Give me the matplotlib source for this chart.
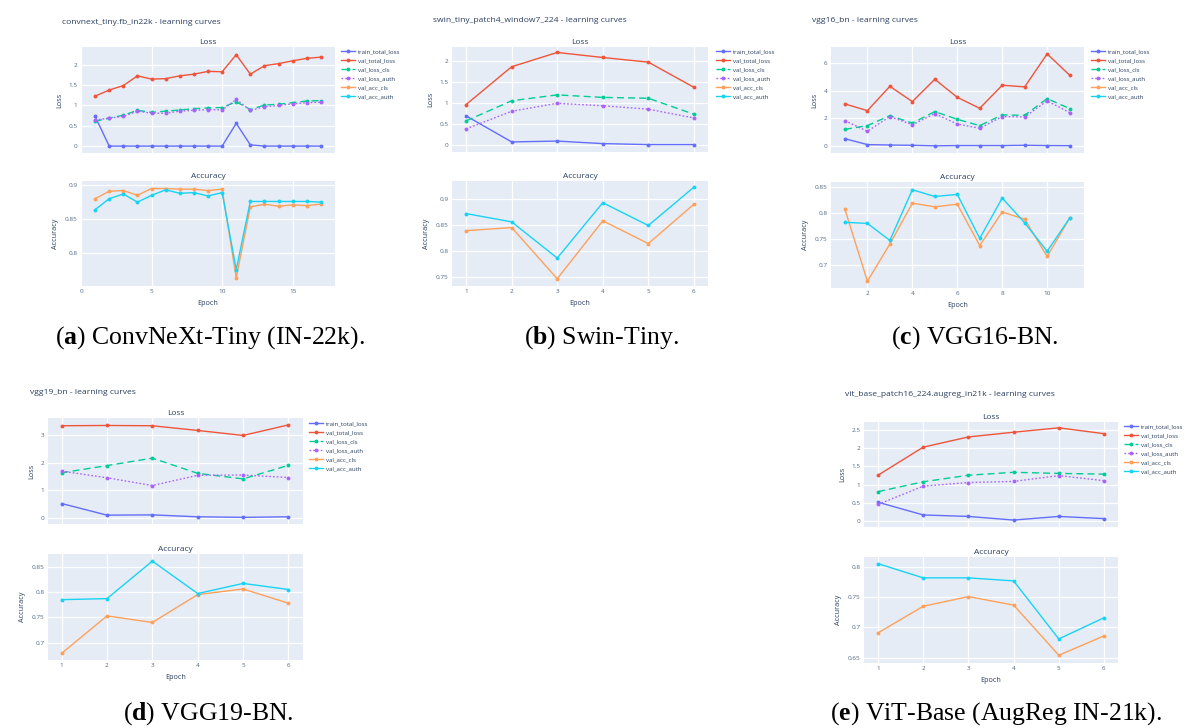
import matplotlib
matplotlib.use("Agg")
import matplotlib.pyplot as plt
from matplotlib.ticker import FuncFormatter

W, H = 1186, 728

# ---- values ----
series_names = ["train_total_loss", "val_total_loss", "val_loss_cls",
                "val_loss_auth", "val_acc_cls", "val_acc_auth"]

a_title = "convnext_tiny.fb_in22k - learning curves"
a_epochs = list(range(1, 18))
a_train_total = [0.73, 0.0, 0.0, 0.0, 0.0, 0.0, 0.0, 0.0, 0.0, 0.0, 0.56, 0.03, 0.0, 0.0, 0.0, 0.0, 0.0]
a_val_total = [1.23, 1.38, 1.49, 1.73, 1.65, 1.66, 1.73, 1.77, 1.84, 1.83, 2.25, 1.77, 1.98, 2.03, 2.10, 2.16, 2.19]
a_val_cls = [0.61, 0.69, 0.76, 0.88, 0.83, 0.86, 0.89, 0.92, 0.94, 0.95, 1.09, 0.90, 1.01, 1.03, 1.07, 1.11, 1.12]
a_val_auth = [0.64, 0.69, 0.73, 0.86, 0.81, 0.81, 0.86, 0.88, 0.90, 0.89, 1.15, 0.88, 0.97, 1.00, 1.04, 1.07, 1.08]
a_acc_cls = [0.880, 0.891, 0.892, 0.885, 0.895, 0.895, 0.894, 0.894, 0.892, 0.894, 0.764, 0.868, 0.872, 0.869, 0.871, 0.870, 0.872]
a_acc_auth = [0.864, 0.880, 0.887, 0.875, 0.885, 0.893, 0.888, 0.889, 0.884, 0.889, 0.776, 0.876, 0.876, 0.876, 0.876, 0.876, 0.875]

b_title = "swin_tiny_patch4_window7_224 - learning curves"
b_epochs = list(range(1, 7))
b_train_total = [0.70, 0.08, 0.10, 0.04, 0.016, 0.016]
b_val_total = [0.97, 1.87, 2.21, 2.09, 1.98, 1.38]
b_val_cls = [0.58, 1.06, 1.20, 1.14, 1.12, 0.74]
b_val_auth = [0.39, 0.81, 1.00, 0.94, 0.86, 0.65]
b_acc_cls = [0.839, 0.845, 0.746, 0.858, 0.814, 0.890]
b_acc_auth = [0.872, 0.856, 0.786, 0.893, 0.849, 0.923]

c_title = "vgg16_bn - learning curves"
c_epochs = list(range(1, 12))
c_train_total = [0.53, 0.10, 0.07, 0.05, 0.01, 0.03, 0.03, 0.03, 0.05, 0.03, 0.02]
c_val_total = [3.06, 2.57, 4.34, 3.23, 4.85, 3.54, 2.74, 4.42, 4.30, 6.70, 5.15]
c_val_cls = [1.21, 1.48, 2.21, 1.67, 2.50, 1.94, 1.48, 2.26, 2.23, 3.45, 2.72]
c_val_auth = [1.84, 1.07, 2.14, 1.55, 2.35, 1.60, 1.29, 2.14, 2.11, 3.28, 2.43]
c_acc_cls = [0.807, 0.668, 0.740, 0.819, 0.812, 0.817, 0.737, 0.802, 0.788, 0.716, 0.790]
c_acc_auth = [0.782, 0.780, 0.747, 0.845, 0.832, 0.836, 0.751, 0.829, 0.781, 0.726, 0.790]

d_title = "vgg19_bn - learning curves"
d_epochs = list(range(1, 7))
d_train_total = [0.52, 0.10, 0.11, 0.04, 0.02, 0.04]
d_val_total = [3.33, 3.34, 3.33, 3.16, 2.98, 3.36]
d_val_cls = [1.63, 1.89, 2.16, 1.61, 1.41, 1.90]
d_val_auth = [1.69, 1.45, 1.17, 1.54, 1.55, 1.46]
d_acc_cls = [0.679, 0.753, 0.740, 0.795, 0.806, 0.778]
d_acc_auth = [0.785, 0.787, 0.861, 0.797, 0.817, 0.805]

e_title = "vit_base_patch16_224.augreg_in21k - learning curves"
e_epochs = list(range(1, 7))
e_train_total = [0.52, 0.17, 0.13, 0.03, 0.13, 0.07]
e_val_total = [1.26, 2.03, 2.31, 2.44, 2.56, 2.40]
e_val_cls = [0.81, 1.08, 1.26, 1.34, 1.31, 1.29]
e_val_auth = [0.46, 0.96, 1.06, 1.09, 1.25, 1.11]
e_acc_cls = [0.691, 0.735, 0.751, 0.737, 0.654, 0.686]
e_acc_auth = [0.8055, 0.782, 0.782, 0.777, 0.681, 0.716]

captions = [("a", "ConvNeXt-Tiny (IN-22k)."), ("b", "Swin-Tiny."), ("c", "VGG16-BN."),
            ("d", "VGG19-BN."), ("e", "ViT-Base (AugReg IN-21k).")]

# plotly default colours / styles
colors = ["#636EFA", "#EF553B", "#00CC96", "#AB63FA", "#FFA15A", "#19D3F3"]
styles = ["-", "-", (0, (5, 3)), (0, (1.2, 1.5)), "-", "-"]
txt = "#2a3f5f"
tickc = "#506784"

plt.rcParams['font.family'] = ['Open Sans', 'DejaVu Sans']
plt.rcParams['mathtext.fontset'] = 'custom'
plt.rcParams['mathtext.rm'] = 'Liberation Serif'
plt.rcParams['mathtext.bf'] = 'Liberation Serif:bold'

fig = plt.figure(figsize=(W / 100, H / 100), dpi=100)


def box(x0, x1, y0, y1):
    return [x0 / W, 1 - y1 / H, (x1 - x0) / W, (y1 - y0) / H]


def fmt(v, pos):
    return "%g" % round(v, 3)


def style_ax(ax, xlim, ylim, yticks, xticks, show_x):
    ax.set_facecolor("#E5ECF6")
    for s in ax.spines.values():
        s.set_visible(False)
    ax.set_xlim(*xlim)
    ax.set_ylim(*ylim)
    ax.set_yticks(yticks)
    ax.set_xticks(xticks)
    ax.grid(True, color="white", linewidth=0.9)
    ax.set_axisbelow(True)
    ax.tick_params(length=0, labelsize=4.6, labelcolor=tickc, pad=2.5)
    ax.yaxis.set_major_formatter(FuncFormatter(fmt))
    ax.xaxis.set_major_formatter(FuncFormatter(fmt))
    if not show_x:
        ax.set_xticklabels([])


def panel(title, tpos, epochs, loss, acc, loss_box, acc_box, xlim,
          loss_ylim, loss_yt, acc_ylim, acc_yt, xt, leg_pos):
    fig.text(tpos[0] / W, 1 - tpos[1] / H, title, fontsize=6.1, color=txt,
             va="center", ha="left")
    axl = fig.add_axes(box(*loss_box))
    axa = fig.add_axes(box(*acc_box))
    handles = []
    for i, ys in enumerate(loss):
        h, = axl.plot(epochs, ys, color=colors[i], linestyle=styles[i], lw=1.0,
                      marker="o", ms=1.8)
        handles.append(h)
    for j, ys in enumerate(acc):
        i = 4 + j
        h, = axa.plot(epochs, ys, color=colors[i], linestyle=styles[i], lw=1.0,
                      marker="o", ms=1.8)
        handles.append(h)
    style_ax(axl, xlim, loss_ylim, loss_yt, xt, False)
    style_ax(axa, xlim, acc_ylim, acc_yt, xt, True)
    axl.set_title("Loss", fontsize=6.0, color=txt, pad=2.5)
    axa.set_title("Accuracy", fontsize=6.0, color=txt, pad=2.5)
    axl.set_ylabel("Loss", fontsize=5.2, color=txt, labelpad=4)
    axa.set_ylabel("Accuracy", fontsize=5.2, color=txt, labelpad=4)
    axa.set_xlabel("Epoch", fontsize=5.2, color=txt, labelpad=4)
    fig.legend(handles, series_names, loc="upper left",
               bbox_to_anchor=(leg_pos[0] / W, 1 - leg_pos[1] / H),
               frameon=False, fontsize=4.4, labelcolor=txt, handlelength=2.3,
               handletextpad=0.5, labelspacing=0.62, borderaxespad=0,
               borderpad=0)


panel(a_title, (62, 22), a_epochs,
      [a_train_total, a_val_total, a_val_cls, a_val_auth], [a_acc_cls, a_acc_auth],
      (81, 335, 47, 153), (81, 335, 181, 286), (0, 18),
      (-0.17, 2.44), [0, 0.5, 1, 1.5, 2], (0.752, 0.906), [0.8, 0.85, 0.9],
      [0, 5, 10, 15], (341, 49))

panel(b_title, (433, 20), b_epochs,
      [b_train_total, b_val_total, b_val_cls, b_val_auth], [b_acc_cls, b_acc_auth],
      (452, 708, 47, 152), (452, 708, 181, 286), (0.69, 6.31),
      (-0.16, 2.34), [0, 0.5, 1, 1.5, 2], (0.732, 0.935), [0.75, 0.8, 0.85, 0.9],
      [1, 2, 3, 4, 5, 6], (716, 49))

panel(c_title, (812, 20), c_epochs,
      [c_train_total, c_val_total, c_val_cls, c_val_auth], [c_acc_cls, c_acc_auth],
      (831, 1084, 47, 153), (831, 1084, 182, 288), (0.38, 11.64),
      (-0.51, 7.2), [0, 2, 4, 6], (0.655, 0.86), [0.7, 0.75, 0.8, 0.85],
      [2, 4, 6, 8, 10], (1091, 49))

panel(d_title, (30, 392), d_epochs,
      [d_train_total, d_val_total, d_val_cls, d_val_auth], [d_acc_cls, d_acc_auth],
      (48, 303, 418, 524), (48, 303, 554, 660), (0.70, 6.32),
      (-0.22, 3.61), [0, 1, 2, 3], (0.666, 0.875), [0.7, 0.75, 0.8, 0.85],
      [1, 2, 3, 4, 5, 6], (309, 421))

panel(e_title, (845, 395), e_epochs,
      [e_train_total, e_val_total, e_val_cls, e_val_auth], [e_acc_cls, e_acc_auth],
      (864, 1118, 422, 527), (864, 1118, 557, 663), (0.69, 6.31),
      (-0.16, 2.72), [0, 0.5, 1, 1.5, 2, 2.5], (0.6412, 0.8165), [0.65, 0.7, 0.75, 0.8],
      [1, 2, 3, 4, 5, 6], (1124, 424))

# captions under each panel
cap_pos = [(210, 338), (601, 338), (975, 338), (208, 714), (996, 714)]
for (letter, text), (cx, cy) in zip(captions, cap_pos):
    fig.text(cx / W, 1 - cy / H, r"($\mathbf{%s}$) " % letter + text,
             fontsize=18.5, family="Liberation Serif", color="black",
             ha="center", va="center")

fig.savefig("out.png", dpi=100)
